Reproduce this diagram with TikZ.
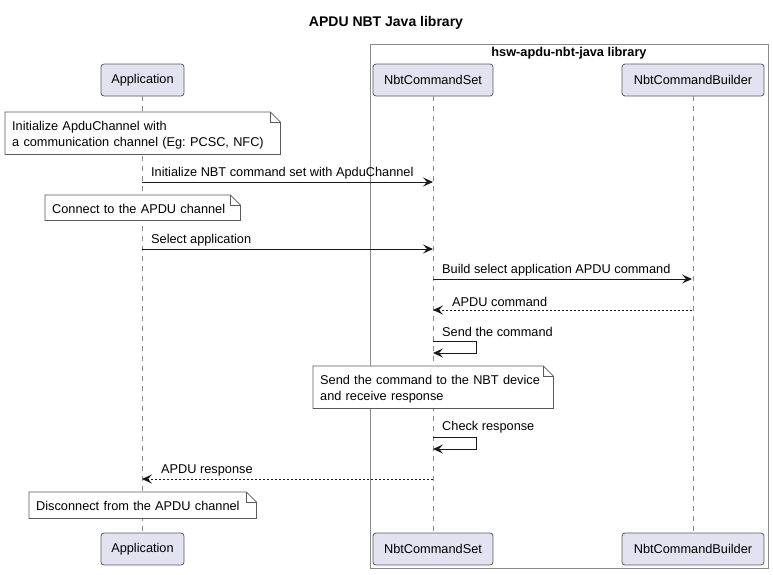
\documentclass[tikz,border=0pt]{standalone}
\usepackage{fontspec}
\setmainfont{Liberation Sans}
\frenchspacing
\usetikzlibrary{arrows.meta}
\definecolor{partfill}{HTML}{E2E2F0}
\definecolor{partline}{HTML}{5A5A5A}
\definecolor{boxline}{HTML}{8A8A8A}
\newcommand{\umlfont}{\fontsize{12.75}{16}\selectfont}
\tikzstyle{participant}=[draw=partline, fill=partfill, rounded corners=3pt, minimum height=32pt, inner sep=0, line width=0.8pt, font=\umlfont]
\tikzstyle{note}=[anchor=north west, inner xsep=7pt, inner ysep=0, align=left, font=\umlfont]
\tikzstyle{lifeline}=[draw=boxline, line width=0.8pt, dash pattern=on 5pt off 5pt]
\tikzstyle{message}=[draw=black!90, line width=0.9pt, -{Stealth[length=10pt, width=9pt, inset=4pt]}]
\tikzstyle{reply}=[message, dash pattern=on 2pt off 2pt]
\tikzstyle{msglabel}=[anchor=south west, inner sep=0, font=\umlfont]
% Outline of a note with a folded corner.
\newcommand{\notebox}[1]{%
  \draw[draw=partline, fill=white, line width=0.8pt] (#1.south west) -- (#1.north west) -- ([xshift=-10pt]#1.north east)
    -- ([yshift=-10pt]#1.north east) -- (#1.south east) -- cycle;
  \draw[draw=partline, line width=0.8pt] ([xshift=-10pt]#1.north east) |- ([yshift=-10pt]#1.north east);}

\begin{document}
\begin{tikzpicture}[x=1pt, y=-1pt]
    \useasboundingbox (0,0) rectangle (773,574);
    \node[font=\fontsize{14}{16}\selectfont\bfseries] (title) at (386,23) {APDU NBT Java library};
    % Library box
    \draw[draw=boxline, line width=0.8pt] (370,44) rectangle (768,568);
    \node[font=\umlfont\bfseries] (libtitle) at (569,53) {hsw-apdu-nbt-java library};
    % Participants
    \node[participant, minimum width=83pt] (app) at (142.5,80) {Application};
    \node[participant, minimum width=120pt] (cmdset) at (433,80) {NbtCommandSet};
    \node[participant, minimum width=142pt] (builder) at (693,80) {NbtCommandBuilder};
    \node[participant, minimum width=83pt] (appb) at (142.5,549) {Application};
    \node[participant, minimum width=120pt] (cmdsetb) at (433,549) {NbtCommandSet};
    \node[participant, minimum width=142pt] (builderb) at (693,549) {NbtCommandBuilder};
    \draw[lifeline] (app.south) -- (appb.north);
    \draw[lifeline] (cmdset.south) -- (cmdsetb.north);
    \draw[lifeline] (builder.south) -- (builderb.north);
    % Notes
    \node[note, text width=261pt, minimum height=42pt] (n1) at (5,112) {};
    \notebox{n1}
    \node[note, text width=261pt, minimum height=42pt] at ([yshift=-2pt]n1.north west) {Initialize ApduChannel with\\a communication channel (Eg: PCSC, NFC)};
    \node[note, text width=181pt, minimum height=25pt] (n2) at (45,195) {};
    \notebox{n2}
    \node[note, text width=181pt, minimum height=25pt] at ([yshift=-1pt]n2.north west) {Connect to the APDU channel};
    \node[note, text width=226pt, minimum height=42pt] (n3) at (313,366) {};
    \notebox{n3}
    \node[note, text width=226pt, minimum height=42pt] at ([yshift=-2pt]n3.north west) {Send the command to the NBT device\\and receive response};
    \node[note, text width=213pt, minimum height=26pt] (n4) at (29,492) {};
    \notebox{n4}
    \node[note, text width=213pt, minimum height=26pt] at ([yshift=-1pt]n4.north west) {Disconnect from the APDU channel};
    % Messages
    \coordinate (m1a) at (142,182);
    \coordinate (m1b) at (433,182);
    \draw[message] (m1a) -- (m1b);
    \node[msglabel] (l1) at (151,179) {Initialize NBT command set with ApduChannel};
    \coordinate (m2a) at (142,249);
    \coordinate (m2b) at (433,249);
    \draw[message] (m2a) -- (m2b);
    \node[msglabel] (l2) at (151,246) {Select application};
    \coordinate (m3a) at (433,279);
    \coordinate (m3b) at (692,279);
    \draw[message] (m3a) -- (m3b);
    \node[msglabel] (l3) at (442,276) {Build select application APDU command};
    \coordinate (m4a) at (692,310);
    \coordinate (m4b) at (433,310);
    \draw[reply] (m4a) -- (m4b);
    \node[msglabel] (l4) at (452,307) {APDU command};
    \coordinate (selfx) at (476,0);
    \coordinate (s1a) at (433,341);
    \coordinate (s1b) at (433,353);
    \draw[message] (s1a) -- (s1a -| selfx) -- (s1b -| selfx) -- (s1b);
    \node[msglabel] (l5) at (442,337) {Send the command};
    \coordinate (s2a) at (433,437);
    \coordinate (s2b) at (433,449);
    \draw[message] (s2a) -- (s2a -| selfx) -- (s2b -| selfx) -- (s2b);
    \node[msglabel] (l6) at (442,433) {Check response};
    \coordinate (m5a) at (433,479);
    \coordinate (m5b) at (142,479);
    \draw[reply] (m5a) -- (m5b);
    \node[msglabel] (l7) at (161,476) {APDU response};
\end{tikzpicture}
\end{document}
